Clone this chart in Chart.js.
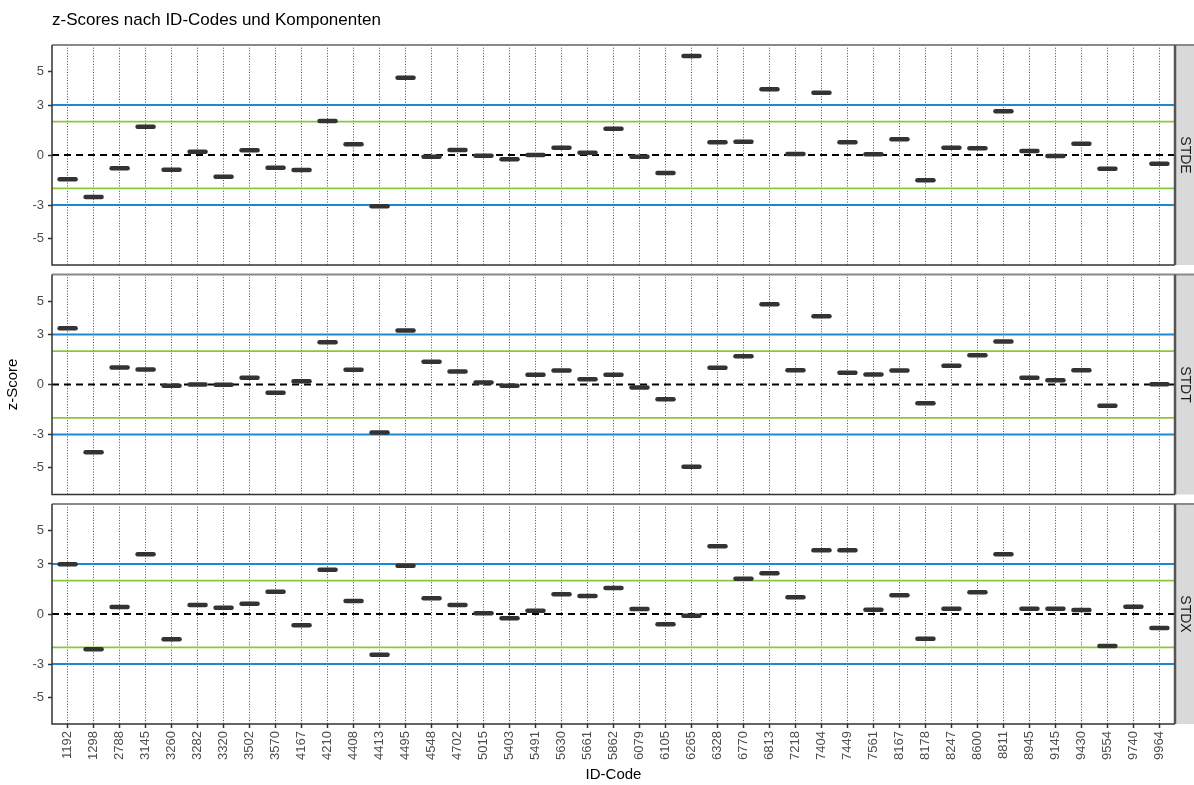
<!DOCTYPE html>
<html>
<head>
	<meta charset="utf-8">
	<title>z-Scores nach ID-Codes und Komponenten</title>
	<script src="https://cdn.jsdelivr.net/npm/chart.js@4.4.1/dist/chart.umd.min.js"></script>
	<style>
		body { margin: 0; background: #fff; }
		.panel { position: absolute; left: 0; width: 1194px; }
	</style>
</head>
<body>
	<div class="panel" style="top:0;height:270px"><canvas id="cSTDE"></canvas></div>
	<div class="panel" style="top:270px;height:230px"><canvas id="cSTDT"></canvas></div>
	<div class="panel" style="top:500px;height:285px"><canvas id="cSTDX"></canvas></div>

	<script>
		// categories (x axis)
		const idCodes = ['1192', '1298', '2788', '3145', '3260', '3282', '3320', '3502', '3570', '4167',
			'4210', '4408', '4413', '4495', '4548', '4702', '5015', '5403', '5491', '5630',
			'5661', '5862', '6079', '6105', '6265', '6328', '6770', '6813', '7218', '7404',
			'7449', '7561', '8167', '8178', '8247', '8600', '8811', '8945', '9145', '9430',
			'9554', '9740', '9964'];

		// z-scores per component (null = no value)
		const stde = [-1.45, -2.52, -0.8, 1.7, -0.88, 0.2, -1.3, 0.28, -0.76, -0.9,
			2.04, 0.64, -3.08, 4.64, -0.1, 0.3, -0.04, -0.26, 0.0, 0.44,
			0.14, 1.58, -0.1, -1.08, 5.94, 0.76, 0.8, 3.94, 0.06, 3.74,
			0.76, 0.04, 0.94, -1.52, 0.44, 0.4, 2.62, 0.24, -0.06, 0.68,
			-0.82, null, -0.52];
		const stdt = [3.38, -4.06, 1.02, 0.9, -0.08, 0.0, -0.02, 0.4, -0.5, 0.2,
			2.54, 0.88, -2.88, 3.24, 1.36, 0.78, 0.12, -0.08, 0.58, 0.84,
			0.32, 0.58, -0.18, -0.88, -4.94, 1.0, 1.7, 4.82, 0.86, 4.1,
			0.7, 0.6, 0.84, -1.12, 1.12, 1.76, 2.58, 0.4, 0.26, 0.86,
			-1.28, null, 0.02];
		const stdx = [2.98, -2.12, 0.42, 3.58, -1.52, 0.54, 0.38, 0.62, 1.34, -0.68,
			2.66, 0.78, -2.44, 2.9, 0.94, 0.54, 0.04, -0.26, 0.2, 1.18,
			1.08, 1.56, 0.3, -0.62, -0.1, 4.06, 2.12, 2.44, 1.0, 3.82,
			3.82, 0.26, 1.12, -1.48, 0.32, 1.3, 3.58, 0.32, 0.32, 0.24,
			-1.92, 0.44, -0.84];

		const yTicks = [-5, -3, 0, 3, 5];
		const yMin = -6.6, yMax = 6.6;
		const blueLimits = [-3, 3];
		const greenLimits = [-2, 2];
		const zeroLine = [0];

		Chart.defaults.font.family = "'Liberation Sans', Arial, sans-serif";
		Chart.defaults.animation = false;

		// limit lines, strip background and panel frame
		const panelDeco = {
			id: 'panelDeco',
			beforeDraw(chart) {
				const { ctx, chartArea: a, scales } = chart;
				const s = scales.y2;
				ctx.save();
				ctx.fillStyle = '#d9d9d9';
				ctx.fillRect(s.left, a.top, s.right - s.left, a.bottom - a.top);
				ctx.restore();
			},
			beforeDatasetsDraw(chart) {
				const { ctx, chartArea: a, scales } = chart;
				const y = scales.y;
				ctx.save();
				function hline(v, color, width, dash) {
					const py = y.getPixelForValue(v);
					ctx.beginPath();
					ctx.strokeStyle = color;
					ctx.lineWidth = width;
					ctx.setLineDash(dash);
					ctx.moveTo(a.left, py);
					ctx.lineTo(a.right, py);
					ctx.stroke();
				}
				blueLimits.forEach(v => hline(v, '#1f88d2', 1.8, []));
				greenLimits.forEach(v => hline(v, '#8cc63f', 1.8, []));
				zeroLine.forEach(v => hline(v, '#000', 2, [7, 5]));
				ctx.restore();
				ctx.lineCap = 'round';
			},
			afterDraw(chart) {
				const { ctx, chartArea: a } = chart;
				ctx.save();
				ctx.lineCap = 'butt';
				ctx.setLineDash([]);
				ctx.strokeStyle = '#8a8a8a';
				ctx.lineWidth = 2;
				ctx.beginPath();
				ctx.moveTo(a.left, a.top);
				ctx.lineTo(chart.width, a.top);
				ctx.stroke();
				ctx.strokeStyle = '#333';
				ctx.lineWidth = 1.5;
				ctx.beginPath();
				ctx.moveTo(a.left, a.top);
				ctx.lineTo(a.left, a.bottom);
				ctx.lineTo(a.right, a.bottom);
				ctx.stroke();
				ctx.strokeStyle = '#555';
				ctx.lineWidth = 2.5;
				ctx.beginPath();
				ctx.moveTo(a.right, a.top);
				ctx.lineTo(a.right, a.bottom);
				ctx.stroke();
				ctx.restore();
			}
		};

		function makePanel(canvasId, label, values, opt) {
			const pts = idCodes.map((c, i) => ({ x: i, y: values[i] }));
			return new Chart(document.getElementById(canvasId), {
				type: 'scatter',
				data: {
					datasets: [{
						label: label,
						data: pts,
						pointStyle: 'line',
						pointRadius: 8,
						pointHoverRadius: 8,
						pointBorderWidth: 4.5,
						pointBorderColor: '#333',
						pointBackgroundColor: '#333'
					}]
				},
				options: {
					responsive: true,
					maintainAspectRatio: false,
					layout: { padding: opt.padding, autoPadding: false },
					plugins: {
						legend: { display: false },
						tooltip: { enabled: false },
						title: {
							display: !!opt.title,
							text: opt.title || '',
							align: 'start',
							fullSize: false,
							color: '#000',
							font: { size: 17, weight: 'normal' },
							padding: { top: 10, bottom: 14.6 }
						}
					},
					scales: {
						x: {
							type: 'linear',
							min: -0.6,
							max: idCodes.length - 0.4,
							afterBuildTicks: s => { s.ticks = idCodes.map((c, i) => ({ value: i })); },
							afterFit: s => {
								s.height = opt.showX ? 61 : 0;
								s.paddingLeft = 0;
								s.paddingRight = 0;
							},
							grid: {
								color: '#4a4a4a',
								lineWidth: 1,
								drawTicks: opt.showX,
								tickLength: 4,
								tickColor: '#333',
								tickWidth: 1.5
							},
							border: { display: false, dash: [1, 1.7] },
							ticks: {
								display: opt.showX,
								autoSkip: false,
								minRotation: 90,
								maxRotation: 90,
								padding: 3,
								color: '#4d4d4d',
								font: { size: 13 },
								callback: v => idCodes[v]
							},
							title: {
								display: opt.showX,
								text: 'ID-Code',
								color: '#000',
								font: { size: 15 },
								padding: { top: 2, bottom: 1 }
							}
						},
						y: {
							position: 'left',
							min: yMin,
							max: yMax,
							afterBuildTicks: s => { s.ticks = yTicks.map(v => ({ value: v })); },
							afterFit: s => {
								s.width = 52;
								s.paddingTop = 0;
								s.paddingBottom = 0;
							},
							grid: {
								drawOnChartArea: false,
								drawTicks: true,
								tickLength: 4,
								tickColor: '#333',
								tickWidth: 1.5
							},
							border: { display: false },
							ticks: {
								padding: 4,
								color: '#4d4d4d',
								font: { size: 13 },
								callback: v => String(v)
							},
							title: {
								display: !!opt.yTitle,
								text: opt.yTitle || '',
								color: '#000',
								font: { size: 15 },
								padding: { top: 4, bottom: 0 }
							}
						},
						y2: {
							position: 'right',
							min: yMin,
							max: yMax,
							afterFit: s => {
								s.width = 19;
								s.paddingTop = 0;
								s.paddingBottom = 0;
							},
							grid: { display: false },
							border: { display: false },
							ticks: { display: false },
							title: {
								display: true,
								text: label,
								color: '#1a1a1a',
								font: { size: 14 },
								padding: { top: 1.2, bottom: 0 }
							}
						}
					}
				},
				plugins: [panelDeco]
			});
		}

		makePanel('cSTDE', 'STDE', stde, {
			title: 'z-Scores nach ID-Codes und Komponenten',
			padding: { top: 0, bottom: 5, left: 0, right: 0 },
			showX: false
		});
		makePanel('cSTDT', 'STDT', stdt, {
			yTitle: 'z-Score',
			padding: { top: 4.5, bottom: 5.5, left: 0, right: 0 },
			showX: false
		});
		makePanel('cSTDX', 'STDX', stdx, {
			padding: { top: 4, bottom: 0, left: 0, right: 0 },
			showX: true
		});
	</script>
</body>
</html>
